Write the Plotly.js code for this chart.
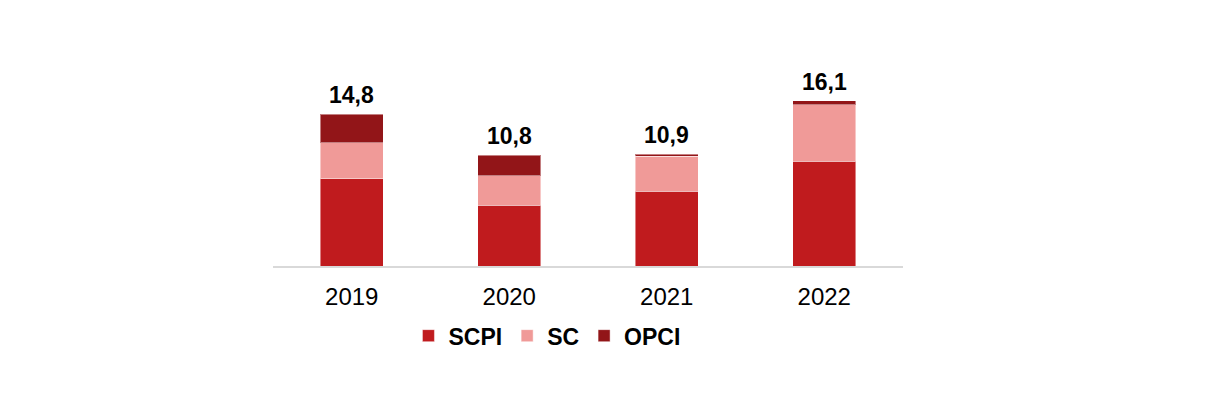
<!DOCTYPE html>
<html>
<head>
<meta charset="utf-8">
<script src="https://cdn.plot.ly/plotly-3.0.1.min.js"></script>
<style>html,body{margin:0;padding:0;background:#fff;}#chart{width:1222px;height:394px;}</style>
</head>
<body>
<div id="chart"></div>
<script>
const years = ['2019', '2020', '2021', '2022'];
const scpi = [8.5, 5.9, 7.3, 10.2];
const sc = [3.5, 2.9, 3.4, 5.5];
const opci = [2.8, 2.0, 0.2, 0.4];
const totals = [14.8, 10.8, 10.9, 16.1];
const totalLabels = ['14,8', '10,8', '10,9', '16,1'];

const traces = [
  {type: 'bar', name: 'SCPI', x: years, y: scpi, marker: {color: '#C01B1E', line: {color: 'rgba(255,255,255,0.45)', width: 1}}, hoverinfo: 'skip'},
  {type: 'bar', name: 'SC', x: years, y: sc, marker: {color: '#F09A98', line: {color: 'rgba(255,255,255,0.45)', width: 1}}, hoverinfo: 'skip'},
  {type: 'bar', name: 'OPCI', x: years, y: opci, marker: {color: '#921518', line: {color: 'rgba(255,255,255,0.45)', width: 1}}, hoverinfo: 'skip'}
];

const annotations = years.map((yr, i) => ({
  x: i, y: totals[i], xref: 'x', yref: 'y',
  text: '<b>' + totalLabels[i] + '</b>', showarrow: false,
  yanchor: 'bottom', yshift: 4,
  font: {family: 'Liberation Sans, Arial, sans-serif', size: 23, color: '#000'}
}));

const layout = {
  width: 1222, height: 394,
  margin: {l: 273, r: 319, t: 61, b: 128, pad: 0},
  paper_bgcolor: '#fff', plot_bgcolor: '#fff',
  barmode: 'stack', bargap: 0.6,
  font: {family: 'Liberation Sans, Arial, sans-serif', color: '#000'},
  showlegend: true,
  legend: {
    orientation: 'h', x: 0.215, xanchor: 'left', y: -0.34, yanchor: 'middle',
    font: {size: 23, color: '#000', family: 'Liberation Sans, Arial, sans-serif', weight: 'bold'},
    traceorder: 'normal'
  },
  xaxis: {
    type: 'category', range: [-0.5, 3.5], showgrid: false, zeroline: false,
    showline: true, linecolor: '#D9D9D9', linewidth: 2,
    ticks: '', tickfont: {size: 24, color: '#000'}, ticklabelstandoff: 8
  },
  yaxis: {range: [0, 19.96], visible: false, showgrid: false, zeroline: false},
  annotations: annotations
};

Plotly.newPlot('chart', traces, layout, {displayModeBar: false});
</script>
</body>
</html>
